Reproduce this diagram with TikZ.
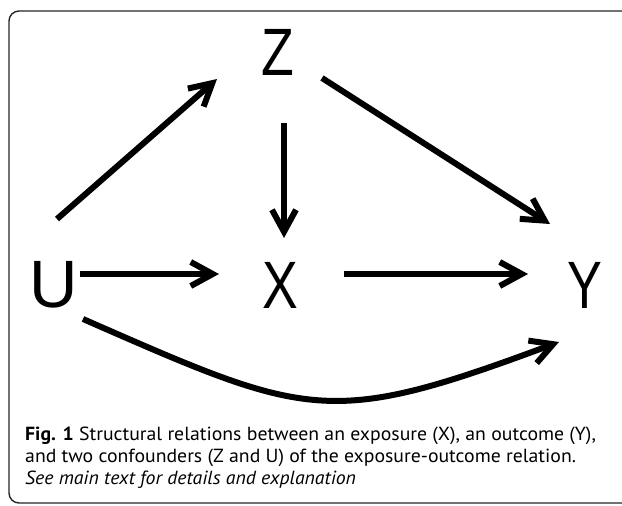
\documentclass[tikz,border=0pt]{standalone}
\usepackage{fontspec}
\setmainfont{PT Sans}
\newfontfamily\letterfont{Liberation Sans}
\usetikzlibrary{arrows.meta}
\tikzset{
  var/.style={inner sep=0pt, font=\letterfont\fontsize{67}{67}\selectfont},
  arr/.style={line width=6pt, -{Straight Barb[length=22pt,width=24pt]}},
  frame/.style={line width=1.4pt, rounded corners=10pt, draw=black!85},
  caption/.style={inner sep=0pt, anchor=west, font=\fontsize{19}{22}\selectfont}
}
\newcommand{\capline}[1]{\scalebox{1.04}[1]{#1}}
\begin{document}
\begin{tikzpicture}[x=1pt,y=-1pt]
\useasboundingbox (0,0) rectangle (622,506);
\clip (0,0) rectangle (622,506);
\fill[white] (0,0) rectangle (622,506);
\draw[frame] (9,11) rectangle (660,503);
\node[var] (Z) at (278,52) {\scalebox{0.8}[1]{Z}};
\node[var] (U) at (54,285) {U};
\node[var] (X) at (280,285) {\scalebox{0.8}[1]{X}};
\node[var] (Y) at (585,285) {\scalebox{0.78}[1]{Y}};
\draw[arr] ([shift={(26,-11)}]U.center) -- ([shift={(-61,-11)}]X.center);
\draw[arr] ([shift={(64,-11)}]X.center) -- ([shift={(-57,-11)}]Y.center);
\draw[arr] ([shift={(3,-66)}]U.center) -- ([shift={(-61,27)}]Z.center);
\draw[arr] ([shift={(6,71)}]Z.center) -- ([shift={(4,-47)}]X.center);
\draw[arr] ([shift={(44,26)}]Z.center) -- ([shift={(-35,-61)}]Y.center);
\draw[arr] ([shift={(29,34)}]U.center) .. controls +(226,99) and +(-231,86) .. ([shift={(-26,57)}]Y.center);
\node[caption] (c1) at (25,436) {\capline{\textbf{Fig. 1} Structural relations between an exposure (X), an outcome (Y),}};
\node[caption] (c2) at (25,458) {\capline{and two confounders (Z and U) of the exposure-outcome relation.}};
\node[caption] (c3) at (25,480) {\capline{\textit{See main text for details and explanation}}};
\end{tikzpicture}
\end{document}
